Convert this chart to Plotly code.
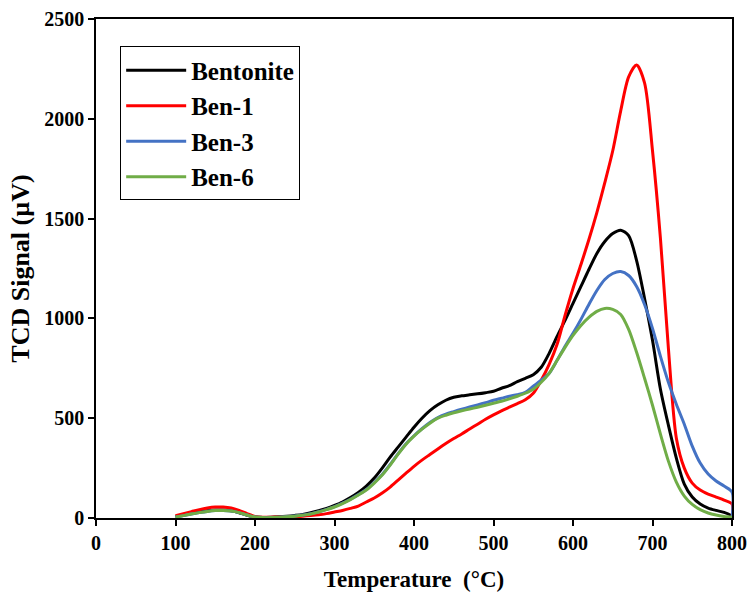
import plotly.graph_objects as go

# Temperature grid (°C); the final 800 closes each trace down to the baseline
temperature = list(range(100, 801, 10)) + [800]

bentonite = [8, 15, 22, 30, 36, 40, 40, 36, 26, 14,
             5, 3, 4, 6, 9, 13, 18, 26, 36, 48,
             63, 80, 102, 128, 160, 200, 250, 305, 355, 405,
             455, 500, 538, 567, 590, 605, 612, 617, 622, 628,
             635, 650, 663, 683, 700, 718, 755, 825, 910, 990,
             1075, 1160, 1245, 1325, 1385, 1425, 1442, 1415, 1290, 1100,
             890, 645, 465, 300, 170, 105, 70, 50, 38, 28,
             8, 0]

ben_1 = [12, 22, 32, 42, 50, 55, 55, 50, 38, 22,
         8, 4, 4, 5, 6, 7, 9, 12, 16, 22,
         30, 38, 48, 60, 80, 100, 125, 155, 190, 225,
         259, 290, 318, 346, 373, 398, 421, 446, 470, 495,
         517, 537, 555, 573, 592, 625, 690, 770, 870, 1015,
         1150, 1270, 1395, 1530, 1680, 1840, 2040, 2210, 2270, 2180,
         1840, 1400, 850, 400, 250, 175, 140, 120, 105, 90,
         70, 0]

ben_3 = [5, 12, 20, 27, 33, 37, 38, 35, 27, 15,
         5, 2, 2, 4, 7, 10, 15, 21, 31, 43,
         57, 74, 94, 117, 143, 178, 218, 268, 322, 372,
         412, 447, 478, 503, 520, 533, 545, 556, 567, 578,
         590, 600, 610, 618, 630, 660, 690, 725, 790, 860,
         925, 995, 1070, 1140, 1195, 1225, 1235, 1215, 1160, 1070,
         950, 810, 680, 570, 470, 360, 275, 220, 185, 160,
         130, 0]

ben_6 = [5, 12, 20, 27, 33, 37, 38, 35, 27, 15,
         5, 2, 2, 4, 6, 9, 14, 20, 30, 42,
         55, 72, 92, 115, 140, 175, 215, 265, 320, 370,
         410, 445, 475, 500, 515, 527, 537, 546, 555, 565,
         575, 585, 597, 610, 625, 645, 680, 725, 790, 855,
         915, 965, 1005, 1035, 1050, 1045, 1020, 945, 830, 700,
         565, 420, 285, 180, 110, 68, 42, 25, 15, 8,
         3, 0]

series = [
    ("Bentonite", bentonite, "#000000"),
    ("Ben-1", ben_1, "#FF0000"),
    ("Ben-3", ben_3, "#4472C4"),
    ("Ben-6", ben_6, "#70AD47"),
]

x_ticks = list(range(0, 801, 100))
y_ticks = list(range(0, 2501, 500))

FONT = "Liberation Serif, Times New Roman, serif"

fig = go.Figure()
for name, values, color in series:
    fig.add_trace(go.Scatter(
        x=temperature, y=values, name=name, mode="lines",
        line=dict(color=color, width=3, shape="spline", smoothing=0.8),
    ))

axis_common = dict(
    showgrid=False, zeroline=False, showline=True, linecolor="black",
    linewidth=1.5, mirror=True, ticks="outside", ticklen=6,
    tickwidth=1.5, tickcolor="black", automargin=False,
    tickfont=dict(family=FONT, size=20, color="black", weight="bold"),
)

fig.update_layout(
    width=748, height=595,
    margin=dict(l=96, r=16, t=19, b=77),
    paper_bgcolor="white", plot_bgcolor="white",
    font=dict(family=FONT, color="black"),
    xaxis=dict(
        range=[0, 800], tickvals=x_ticks,
        title=dict(text="Temperature  (°C)", standoff=18,
                   font=dict(family=FONT, size=23, weight="bold")),
        **axis_common,
    ),
    yaxis=dict(
        range=[0, 2500], tickvals=y_ticks,
        title=dict(text="TCD Signal (µV)", standoff=7,
                   font=dict(family=FONT, size=26, weight="bold")),
        **axis_common,
    ),
    # inner half of the cross-style tick marks
    xaxis2=dict(overlaying="x", range=[0, 800], tickvals=x_ticks,
                ticks="inside", ticklen=6, tickwidth=1.5, tickcolor="black",
                showticklabels=False, showgrid=False, zeroline=False,
                showline=False, automargin=False),
    yaxis2=dict(overlaying="y", range=[0, 2500], tickvals=y_ticks,
                ticks="inside", ticklen=6, tickwidth=1.5, tickcolor="black",
                showticklabels=False, showgrid=False, zeroline=False,
                showline=False, automargin=False),
    legend=dict(
        x=0.038, y=0.945, xanchor="left", yanchor="top",
        bgcolor="white", bordercolor="black", borderwidth=1,
        font=dict(family=FONT, size=25, color="black", weight="bold"),
        itemwidth=60,
    ),
    showlegend=True,
)

fig.write_html("out.html")
